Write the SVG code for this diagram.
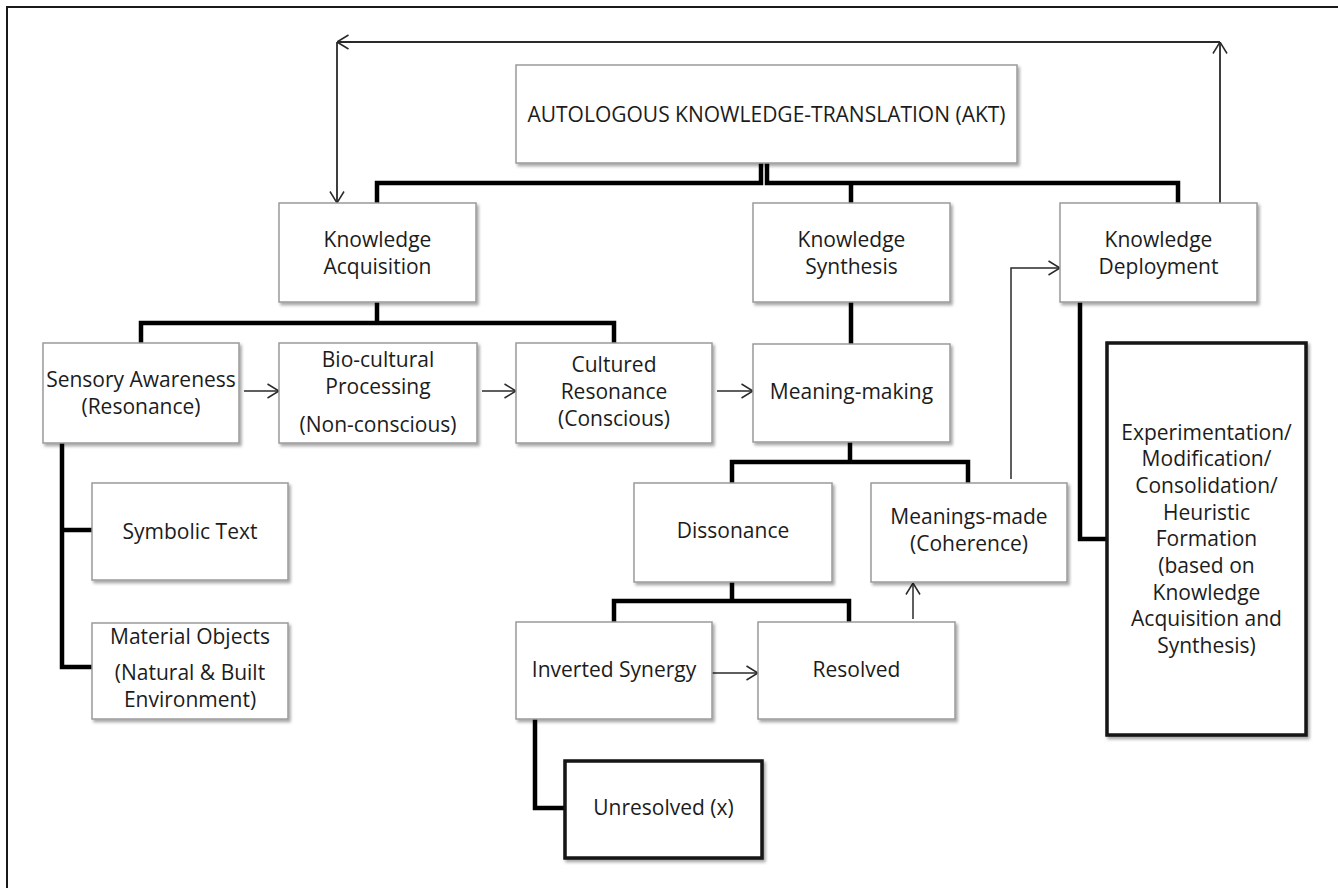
<svg xmlns="http://www.w3.org/2000/svg" width="1338" height="888" viewBox="0 0 1338 888">
  <defs>
    <filter id="shadow" x="-10%" y="-10%" width="125%" height="130%">
      <feDropShadow dx="2" dy="2.5" stdDeviation="1.5" flood-color="#000" flood-opacity="0.35"/>
    </filter>
    <marker id="arrow" viewBox="0 0 13 16" refX="12.5" refY="8" markerWidth="13" markerHeight="16" markerUnits="userSpaceOnUse" orient="auto">
      <path d="M1,1 L12.5,8 L1,15" fill="none" stroke="#2a2a2a" stroke-width="1.5"/>
    </marker>
  </defs>
  <style>
    .node rect { fill: #fff; stroke: #9a9a9a; stroke-width: 1.5; filter: url(#shadow); }
    .node.bold rect { stroke: #141414; stroke-width: 3.5; }
    text { font-family: "Open Sans", "Liberation Sans", sans-serif; font-size: 21px; fill: #1c1c1c; text-anchor: middle; }
    .thick { fill: none; stroke: #000; stroke-width: 4.5; stroke-linejoin: miter; }
    .thin { fill: none; stroke: #2a2a2a; stroke-width: 1.5; marker-end: url(#arrow); }
    .loop { stroke-width: 1.8; }
    .frame { fill: none; stroke: #1a1a1a; stroke-width: 2; }
  </style>

  <rect x="0" y="0" width="1338" height="888" fill="#fff"/>
  <!-- page frame (top and left edges only) -->
  <path class="frame" d="M7,888 V7 H1338"/>

  <g id="connectors">
    <!-- tree links -->
    <path class="thick" d="M761,163 V183 H377 V203"/>
    <path class="thick" d="M767,163 V183 H1178 V203 M851,183 V203"/>
    <path class="thick" d="M851,302 V344"/>
    <path class="thick" d="M377,302 V323 M141,343 V323 H614 V343"/>
    <path class="thick" d="M62,443 V667 H92 M62,530 H92"/>
    <path class="thick" d="M850,442 V462 M732,483 V462 H968 V483"/>
    <path class="thick" d="M732,582 V601 M614,622 V601 H849 V622"/>
    <path class="thick" d="M535,719 V808 H565"/>
    <path class="thick" d="M1080,302 V539 H1107"/>
    <!-- flow arrows -->
    <path class="thin" d="M244,391 H279"/>
    <path class="thin" d="M482,391 H516"/>
    <path class="thin" d="M717,391 H753"/>
    <path class="thin" d="M712,673 H758"/>
    <path class="thin" d="M913,619 V583"/>
    <path class="thin" d="M1011,479 V268 H1060"/>
    <!-- feedback loop -->
    <path class="thin loop" d="M1220,203 V42"/>
    <path class="thin loop" d="M1220,42 H337"/>
    <path class="thin loop" d="M337,42 V203"/>
  </g>

  <g id="akt" class="node">
    <rect x="516" y="65" width="501" height="98"/>
    <text x="766.5" y="122">AUTOLOGOUS KNOWLEDGE-TRANSLATION (AKT)</text>
  </g>
  <g id="acquisition" class="node">
    <rect x="279" y="203" width="197" height="99"/>
    <text x="377.5" y="247">Knowledge</text>
    <text x="377.5" y="274">Acquisition</text>
  </g>
  <g id="synthesis" class="node">
    <rect x="753" y="203" width="197" height="99"/>
    <text x="851.5" y="247">Knowledge</text>
    <text x="851.5" y="274">Synthesis</text>
  </g>
  <g id="deployment" class="node">
    <rect x="1060" y="203" width="197" height="99"/>
    <text x="1158.5" y="247">Knowledge</text>
    <text x="1158.5" y="274">Deployment</text>
  </g>
  <g id="sensory" class="node">
    <rect x="43" y="343" width="196" height="100"/>
    <text x="141" y="387">Sensory Awareness</text>
    <text x="141" y="414">(Resonance)</text>
  </g>
  <g id="biocultural" class="node">
    <rect x="279" y="343" width="198" height="100"/>
    <text x="378" y="367">Bio-cultural</text>
    <text x="378" y="394">Processing</text>
    <text x="378" y="432">(Non-conscious)</text>
  </g>
  <g id="cultured" class="node">
    <rect x="516" y="343" width="196" height="100"/>
    <text x="614" y="372">Cultured</text>
    <text x="614" y="399">Resonance</text>
    <text x="614" y="426">(Conscious)</text>
  </g>
  <g id="meaning-making" class="node">
    <rect x="753" y="344" width="197" height="98"/>
    <text x="851.5" y="399">Meaning-making</text>
  </g>
  <g id="experimentation" class="node bold">
    <rect x="1107" y="343" width="199" height="392"/>
    <text x="1206.5" y="439.5">Experimentation/</text>
    <text x="1206.5" y="466">Modification/</text>
    <text x="1206.5" y="493">Consolidation/</text>
    <text x="1206.5" y="519.5">Heuristic</text>
    <text x="1206.5" y="546">Formation</text>
    <text x="1206.5" y="573">(based on</text>
    <text x="1206.5" y="599.5">Knowledge</text>
    <text x="1206.5" y="626">Acquisition and</text>
    <text x="1206.5" y="653">Synthesis)</text>
  </g>
  <g id="symbolic-text" class="node">
    <rect x="92" y="483" width="196" height="97"/>
    <text x="190" y="539">Symbolic Text</text>
  </g>
  <g id="material-objects" class="node">
    <rect x="92" y="623" width="196" height="96"/>
    <text x="190" y="644">Material Objects</text>
    <text x="190" y="680">(Natural &amp; Built</text>
    <text x="190" y="707">Environment)</text>
  </g>
  <g id="dissonance" class="node">
    <rect x="634" y="483" width="198" height="99"/>
    <text x="733" y="538">Dissonance</text>
  </g>
  <g id="meanings-made" class="node">
    <rect x="871" y="483" width="196" height="99"/>
    <text x="969" y="524">Meanings-made</text>
    <text x="969" y="551">(Coherence)</text>
  </g>
  <g id="inverted-synergy" class="node">
    <rect x="516" y="622" width="196" height="97"/>
    <text x="614" y="677">Inverted Synergy</text>
  </g>
  <g id="resolved" class="node">
    <rect x="758" y="622" width="197" height="97"/>
    <text x="856.5" y="677">Resolved</text>
  </g>
  <g id="unresolved" class="node bold">
    <rect x="565" y="761" width="197" height="97"/>
    <text x="663.5" y="815">Unresolved (x)</text>
  </g>
</svg>
